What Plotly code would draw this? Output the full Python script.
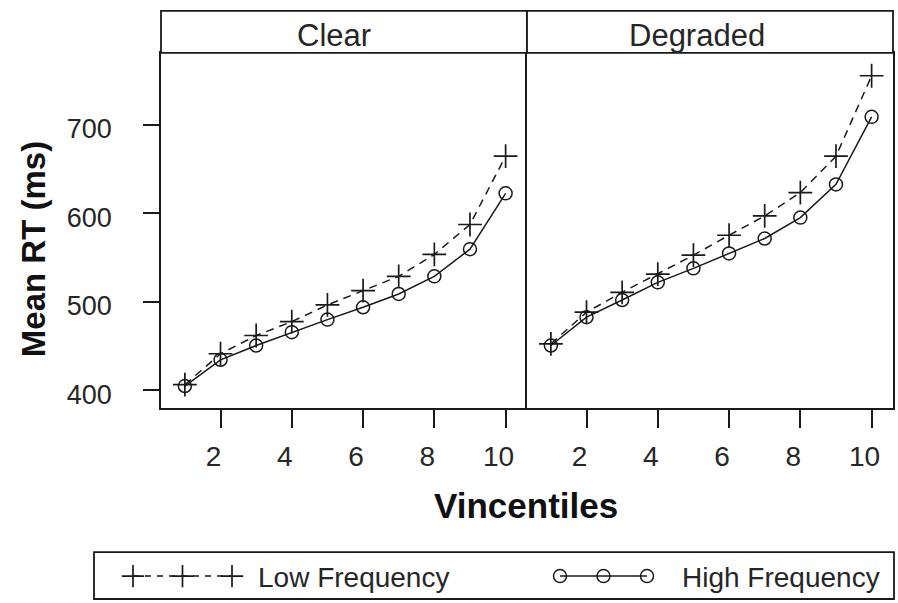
import plotly.graph_objects as go

W, H = 898, 603

vincentiles = [1, 2, 3, 4, 5, 6, 7, 8, 9, 10]
panels = ["Clear", "Degraded"]
clear_low = [406.4, 441.3, 461.9, 477.6, 496.4, 512.5, 528.7, 553.4, 587.2, 664.3]
clear_high = [404.9, 434.5, 450.6, 465.7, 479.9, 493.8, 508.8, 528.7, 559.4, 622.4]
degraded_low = [452.5, 488.2, 510.7, 531.3, 552.6, 575.1, 596.9, 623.2, 664.3, 755.1]
degraded_high = [450.6, 482.6, 502.0, 521.9, 537.7, 554.6, 571.4, 595.0, 632.5, 708.7]
x_ticks = [2, 4, 6, 8, 10]
y_ticks = [400, 500, 600, 700]
series_names = ["Low Frequency", "High Frequency"]

INK = "#1a1a1a"
TXT = "#262626"
FONT = "Liberation Sans, Arial, sans-serif"


def px(x):
    return x / W


def py(y):
    return 1 - y / H


fig = go.Figure()

low_style = dict(mode="lines+markers",
                 line=dict(color=INK, width=1.5, dash="8px,6px"),
                 marker=dict(symbol="cross-thin-open", size=17,
                             line=dict(color=INK, width=1.7)))
high_style = dict(mode="lines+markers",
                  line=dict(color=INK, width=1.5),
                  marker=dict(symbol="circle-open", size=13,
                              line=dict(color=INK, width=1.5)))

for i, (lo, hi) in enumerate([(clear_low, clear_high), (degraded_low, degraded_high)]):
    xa = "x" if i == 0 else "x2"
    ya = "y" if i == 0 else "y2"
    fig.add_trace(go.Scatter(x=vincentiles, y=lo, xaxis=xa, yaxis=ya,
                             name=series_names[0], showlegend=False, **low_style))
    fig.add_trace(go.Scatter(x=vincentiles, y=hi, xaxis=xa, yaxis=ya,
                             name=series_names[1], showlegend=False, **high_style))

# legend key glyphs on an overlay axis in pixel units
fig.add_trace(go.Scatter(x=[133, 182.5, 232], y=[578, 578, 578], xaxis="x3", yaxis="y3",
                         showlegend=False, hoverinfo="skip",
                         mode="lines+markers",
                         line=dict(color=INK, width=1.5, dash="6px,6px"),
                         marker=dict(symbol="cross-thin-open", size=16,
                                     line=dict(color=INK, width=1.7))))
fig.add_trace(go.Scatter(x=[560, 603.5, 647], y=[578, 578, 578], xaxis="x3", yaxis="y3",
                         showlegend=False, hoverinfo="skip", **high_style))

yr = [380.5, 781.0]
xr = [0.33, 10.6]
LW = 1.8
ax_common = dict(showline=True, linecolor=INK, linewidth=LW,
                 showgrid=False, zeroline=False, ticks="outside", tickcolor=INK,
                 tickwidth=1.5, tickfont=dict(family=FONT, size=28, color=TXT))

fig.update_layout(
    width=W, height=H,
    margin=dict(l=0, r=0, t=0, b=0),
    paper_bgcolor="white", plot_bgcolor="rgba(0,0,0,0)",
    showlegend=False,
    xaxis=dict(domain=[px(161), px(527)], range=xr, tickvals=x_ticks, ticklen=18,
               anchor="y", ticklabelstandoff=5, ticklabelshift=-7, mirror=True,
               **ax_common),
    xaxis2=dict(domain=[px(527), px(893)], range=xr, tickvals=x_ticks, ticklen=18,
                anchor="y2", ticklabelstandoff=5, ticklabelshift=-7, mirror=True,
                **ax_common),
    yaxis=dict(domain=[py(409), py(53)], range=yr, tickvals=y_ticks, ticklen=16,
               anchor="x", ticklabelstandoff=26, ticklabelshift=4, mirror=False,
               **{**ax_common, "tickfont": dict(family=FONT, size=27, color=TXT)}),
    yaxis2=dict(domain=[py(409), py(53)], range=yr, anchor="x2", showticklabels=False,
                showline=True, linecolor=INK, linewidth=LW, mirror=True,
                showgrid=False, zeroline=False, ticks=""),
    xaxis3=dict(domain=[0, 1], range=[0, W], visible=False, anchor="y3", fixedrange=True),
    yaxis3=dict(domain=[0, 1], range=[H, 0], visible=False, anchor="x3", fixedrange=True),
)

shape_line = dict(color=INK, width=LW)
# strips
for x0, x1 in [(161, 527), (527, 893)]:
    fig.add_shape(type="rect", xref="paper", yref="paper",
                  x0=px(x0), x1=px(x1), y0=py(53), y1=py(11),
                  line=shape_line, fillcolor="white", layer="above")
# legend box
fig.add_shape(type="rect", xref="paper", yref="paper",
              x0=px(94), x1=px(894), y0=py(601), y1=py(554),
              line=shape_line, fillcolor="rgba(0,0,0,0)", layer="above")

ann = []
for name, xc in zip(panels, [334, 697]):
    ann.append(dict(text=name, x=px(xc), y=py(36), xref="paper", yref="paper",
                    showarrow=False, font=dict(family=FONT, size=31, color=TXT),
                    xanchor="center", yanchor="middle"))
ann.append(dict(text="<b>Mean RT (ms)</b>", x=px(33), y=py(250), xref="paper", yref="paper",
                showarrow=False, textangle=-90, font=dict(family=FONT, size=33, color="#111"),
                xanchor="center", yanchor="middle"))
ann.append(dict(text="<b>Vincentiles</b>", x=px(526), y=py(507), xref="paper", yref="paper",
                showarrow=False, font=dict(family=FONT, size=35, color="#111"),
                xanchor="center", yanchor="middle"))
ann.append(dict(text=series_names[0], x=px(256), y=py(579), xref="paper", yref="paper",
                showarrow=False, font=dict(family=FONT, size=28, color=TXT),
                xanchor="left", yanchor="middle"))
ann.append(dict(text=series_names[1], x=px(680), y=py(579), xref="paper", yref="paper",
                showarrow=False, font=dict(family=FONT, size=28, color=TXT),
                xanchor="left", yanchor="middle"))
fig.update_layout(annotations=ann)

fig.write_html("out.html")
